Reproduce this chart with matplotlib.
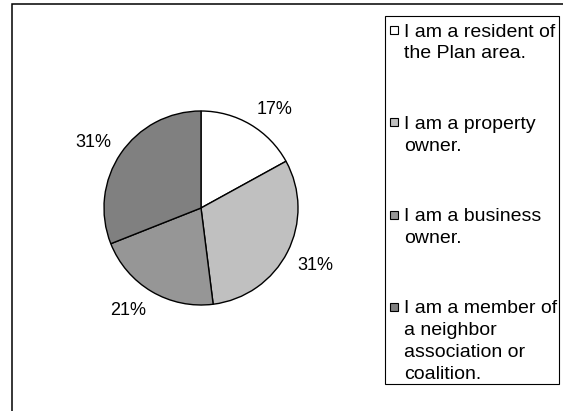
import matplotlib
matplotlib.use("Agg")
import matplotlib.pyplot as plt
from matplotlib.patches import Rectangle

plt.rcParams['font.family'] = ['Liberation Sans', 'DejaVu Sans']

# data
labels = ["I am a resident of\nthe Plan area.",
          "I am a property\nowner.",
          "I am a business\nowner.",
          "I am a member of\na neighbor\nassociation or\ncoalition."]
shares = [17, 31, 21, 31]
colors = ["#FFFFFF", "#C0C0C0", "#969696", "#808080"]

W, H = 563, 411
fig = plt.figure(figsize=(W / 100, H / 100), dpi=100)


def fx(px):
    return px / W


def fy(py):
    return 1 - py / H


# outer chart frame (cut off at right and bottom as in the source)
fig.patches.append(Rectangle((fx(12), fy(H + 20)), fx(W + 20) - fx(12), fy(4.3) - fy(H + 20),
                             transform=fig.transFigure, fill=False,
                             edgecolor="black", linewidth=1.1))

# pie
cx, cy, r = 201, 208, 97
half = 130
ax = fig.add_axes([fx(cx - half), fy(cy + half), 2 * half / W, 2 * half / H])
wedges, texts = ax.pie(shares, colors=colors, startangle=90, counterclock=False,
                       labels=[f"{s}%" for s in shares], labeldistance=1.12,
                       wedgeprops=dict(edgecolor="black", linewidth=1.0),
                       textprops=dict(fontsize=13, color="black"))
lim = half / r
ax.set_xlim(-lim, lim)
ax.set_ylim(-lim, lim)
ax.set_aspect("equal")
# corner of the label box nearest the pie sits on the mid-angle ray
for t in texts:
    x, y = t.get_position()
    t.set_horizontalalignment("left" if x > 0 else "right")
    t.set_verticalalignment("baseline" if y > 0 else "top")

# legend drawn by hand so the marker sits on the first line of each label
fig.patches.append(Rectangle((fx(384.5), fy(384)), fx(559) - fx(384.5), fy(16) - fy(384),
                             transform=fig.transFigure, facecolor="white",
                             edgecolor="black", linewidth=0.8))
first_baseline = 36.7
step = 92.2
line_gap = 21.8
box = 8.0
for i, (lab, col) in enumerate(zip(labels, colors)):
    base = first_baseline + i * step
    fig.patches.append(Rectangle((fx(390), fy(base - 2.4)), box / W, box / H,
                                 transform=fig.transFigure, facecolor=col,
                                 edgecolor="black", linewidth=0.8))
    for j, line in enumerate(lab.split("\n")):
        fig.text(fx(404.5), fy(base + j * line_gap), line, fontsize=14,
                 va="baseline", ha="left")

fig.savefig("out.png", dpi=100)
